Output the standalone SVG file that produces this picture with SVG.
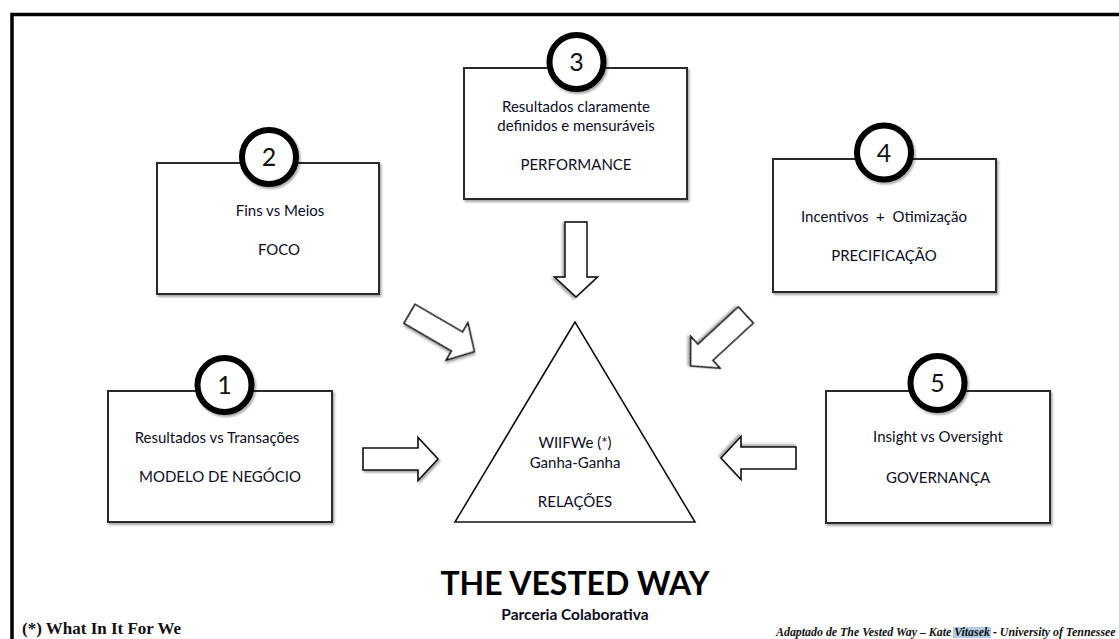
<svg xmlns="http://www.w3.org/2000/svg" width="1119" height="639" viewBox="0 0 1119 639">
<style>
.box{fill:#fff;stroke:#2b2b2b;stroke-width:2;filter:url(#sh)}
.ring{fill:#fff;stroke:#000;stroke-width:6;filter:url(#sh)}
.num{font-family:Lato,"Open Sans",sans-serif;font-size:25px;fill:#111;text-anchor:middle}
.t{font-family:Lato,"Open Sans",sans-serif;font-size:15px;fill:#0d0d1f;text-anchor:middle;white-space:pre}
.arr{fill:#fff;stroke:#111;stroke-width:1.6;stroke-linejoin:miter;filter:url(#sh)}
.tri{fill:#fff;stroke:#111;stroke-width:1.6}
</style>
<defs>
<filter id="sh" x="-20%" y="-20%" width="150%" height="150%">
<feDropShadow dx="1.5" dy="2" stdDeviation="1.3" flood-color="#000" flood-opacity="0.35"/>
</filter>
<path id="ba" d="M0,-11 H55 V-21.5 L75,0 L55,21.5 V11 H0 Z"/>
</defs>
<rect x="0" y="0" width="1119" height="639" fill="#fff"/>
<rect id="frame" x="12" y="14.5" width="1200" height="700" fill="none" stroke="#000" stroke-width="3.5"/>

<g id="connectors">
<use href="#ba" class="arr" transform="translate(363,459)"/>
<use href="#ba" class="arr" transform="translate(796,458) rotate(180)"/>
<use href="#ba" class="arr" transform="translate(576,222) rotate(90)"/>
<use href="#ba" class="arr" transform="translate(409.5,313.8) rotate(30.2)"/>
<use href="#ba" class="arr" transform="translate(745.8,315) rotate(137.3)"/>
</g>

<g id="center">
<polygon class="tri" points="575,322 455,522 695,522"/>
<text class="t" x="575" y="448">WIIFWe (*)</text>
<text class="t" x="575" y="468">Ganha-Ganha</text>
<text class="t" x="575" y="507">RELAÇÕES</text>
</g>

<g id="n1">
<rect class="box" x="108" y="391" width="224" height="131"/>
<circle class="ring" cx="224.5" cy="385" r="27"/>
<text class="num" x="224.5" y="394">1</text>
<text class="t" x="217" y="443">Resultados vs Transações</text>
<text class="t" x="220" y="482">MODELO DE NEGÓCIO</text>
</g>

<g id="n2">
<rect class="box" x="157" y="163" width="222" height="131"/>
<circle class="ring" cx="269" cy="157" r="27"/>
<text class="num" x="269" y="166">2</text>
<text class="t" x="280" y="216">Fins vs Meios</text>
<text class="t" x="279" y="255">FOCO</text>
</g>

<g id="n3">
<rect class="box" x="464" y="68" width="223" height="131"/>
<circle class="ring" cx="576.5" cy="62" r="27"/>
<text class="num" x="576.5" y="71">3</text>
<text class="t" x="576" y="112">Resultados claramente</text>
<text class="t" x="576" y="131">definidos e mensuráveis</text>
<text class="t" x="576" y="170">PERFORMANCE</text>
</g>

<g id="n4">
<rect class="box" x="773" y="159" width="223" height="133"/>
<circle class="ring" cx="884" cy="152.5" r="27"/>
<text class="num" x="884" y="161.5">4</text>
<text class="t" x="884" y="222">Incentivos  +  Otimização</text>
<text class="t" x="884" y="261">PRECIFICAÇÃO</text>
</g>

<g id="n5">
<rect class="box" x="826" y="391" width="224" height="132"/>
<circle class="ring" cx="937.5" cy="383" r="27"/>
<text class="num" x="937.5" y="392">5</text>
<text class="t" x="938" y="442">Insight vs Oversight</text>
<text class="t" x="938" y="483">GOVERNANÇA</text>
</g>

<g id="title">
<text x="575" y="595" font-family="Lato,'Open Sans',sans-serif" font-weight="700" font-size="32" fill="#000" text-anchor="middle">THE VESTED WAY</text>
<text x="575" y="620" font-family="Lato,'Open Sans',sans-serif" font-weight="700" font-size="15.5" fill="#0d0d1f" text-anchor="middle">Parceria Colaborativa</text>
</g>

<g id="footer">
<text x="22" y="634" font-family="'Liberation Serif',serif" font-weight="700" font-size="17" fill="#111">(*) What In It For We</text>
<rect x="953" y="627" width="38" height="11" fill="#b3cbe4"/>
<text x="776" y="636" font-family="'Liberation Serif',serif" font-style="italic" font-weight="700" font-size="11.9" fill="#111">Adaptado de The Vested Way – Kate Vitasek - University of Tennessee</text>
</g>
</svg>
